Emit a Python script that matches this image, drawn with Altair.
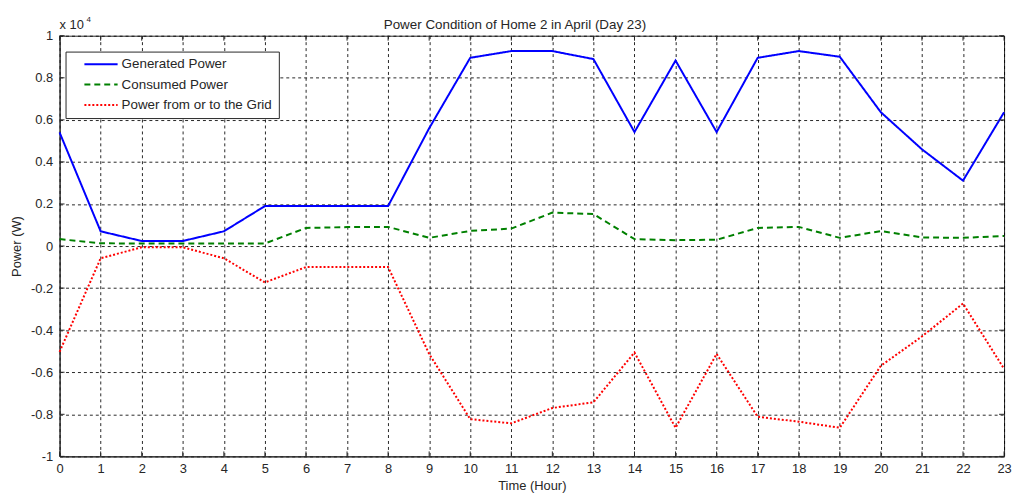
import altair as alt
import pandas as pd

hours = list(range(24))
generated = [5400, 700, 240, 240, 700, 1900, 1900, 1900, 1900, 5600, 8950, 9270,
             9270, 8890, 5420, 8820, 5420, 8950, 9270, 9000, 6360, 4600, 3110, 6360]
consumed = [330, 130, 120, 120, 120, 120, 860, 900, 910, 390, 720, 830,
            1590, 1520, 330, 280, 300, 860, 910, 390, 710, 410, 390, 480]
grid = [-5030, -580, -60, -60, -580, -1730, -1000, -1000, -1000, -5130, -8230, -8430,
        -7700, -7430, -5060, -8640, -5130, -8120, -8350, -8640, -5690, -4300, -2730, -5840]
series_names = ["Generated Power", "Consumed Power", "Power from or to the Grid"]
series_colors = ["#0000ff", "#008000", "#ff0000"]
x_ticks = list(range(24))
y_ticks = [-10000, -8000, -6000, -4000, -2000, 0, 2000, 4000, 6000, 8000, 10000]
title_text = "Power Condition of Home 2 in April (Day 23)"

rows = []
for name, vals in zip(series_names, [generated, consumed, grid]):
    for h, v in zip(hours, vals):
        rows.append({"hour": h, "power": v, "series": name})
df = pd.DataFrame(rows)
xt = pd.DataFrame({"t": x_ticks})
yt = pd.DataFrame({"t": y_ticks})

W, H = 952, 424
FONT = "Liberation Sans"
TXT = "#262626"
FS = 13

x_scale = alt.Scale(domain=[0, 23], nice=False, zero=False)
y_scale = alt.Scale(domain=[-10000, 10000], nice=False, zero=False)

x_axis = alt.Axis(values=x_ticks, title="Time (Hour)", grid=True, ticks=False,
                  labelPadding=6, titlePadding=4, labelFlush=False)
y_axis = alt.Axis(values=y_ticks, title="Power (W)", grid=True, ticks=False,
                  labelPadding=7, titlePadding=7, labelFlush=False,
                  labelExpr="datum.value == 0 ? '0' : (datum.value < 0 ? '-' : '') + format(abs(datum.value) / 10000, '.1~f')")

lines = alt.Chart(df).mark_line(strokeWidth=2).encode(
    x=alt.X("hour:Q", scale=x_scale, axis=x_axis),
    y=alt.Y("power:Q", scale=y_scale, axis=y_axis),
    color=alt.Color("series:N", scale=alt.Scale(domain=series_names, range=series_colors),
                    legend=alt.Legend(title=None)),
    strokeDash=alt.StrokeDash("series:N",
                              scale=alt.Scale(domain=series_names, range=[[1, 0], [6, 4], [2, 2]]),
                              legend=alt.Legend(title=None)),
    order=alt.Order("hour:Q"),
)

tick_style = dict(color="#262626", strokeWidth=1)
bottom_ticks = alt.Chart(xt).mark_rule(**tick_style).encode(
    x=alt.X("t:Q", scale=x_scale), y=alt.value(H), y2=alt.value(H - 5))
top_ticks = alt.Chart(xt).mark_rule(**tick_style).encode(
    x=alt.X("t:Q", scale=x_scale), y=alt.value(0), y2=alt.value(5))
left_ticks = alt.Chart(yt).mark_rule(**tick_style).encode(
    y=alt.Y("t:Q", scale=y_scale), x=alt.value(0), x2=alt.value(5))
right_ticks = alt.Chart(yt).mark_rule(**tick_style).encode(
    y=alt.Y("t:Q", scale=y_scale), x=alt.value(W), x2=alt.value(W - 5))

one = pd.DataFrame({"a": [0]})
exp_base = alt.Chart(one).mark_text(
    align="left", baseline="alphabetic", fontSize=FS, font=FONT, color=TXT
).encode(x=alt.value(0), y=alt.value(-7), text=alt.value("x 10"))
exp_sup = alt.Chart(one).mark_text(
    align="left", baseline="alphabetic", fontSize=8, font=FONT, color=TXT
).encode(x=alt.value(27), y=alt.value(-14), text=alt.value("4"))
title_mark = alt.Chart(one).mark_text(
    align="center", baseline="alphabetic", fontSize=13.5, font=FONT, color=TXT
).encode(x=alt.value(W / 2 - 17), y=alt.value(-7), text=alt.value(title_text))

chart = alt.layer(lines, bottom_ticks, top_ticks, left_ticks, right_ticks,
                  exp_base, exp_sup, title_mark).properties(
    width=W, height=H,
    autosize=alt.AutoSizeParams(type="none"),
    padding={"left": 52, "top": 26, "right": 8, "bottom": 37},
).configure_view(
    stroke="#262626", strokeWidth=1
).configure_axis(
    domainColor="#262626", domainWidth=1,
    gridColor="#000000", gridDash=[3, 3], gridWidth=1, gridOpacity=0.85,
    labelFont=FONT, labelFontSize=FS, labelColor=TXT,
    titleFont=FONT, titleFontSize=FS, titleColor=TXT, titleFontWeight="normal",
).configure_legend(
    orient="none", legendX=6, legendY=16, direction="vertical",
    fillColor="white", strokeColor="#262626", padding=6,
    symbolType="M-4,0H4", symbolSize=70, symbolStrokeWidth=2, symbolOffset=23,
    labelFont=FONT, labelFontSize=13.5, labelColor=TXT, labelOffset=14,
    rowPadding=5.5, cornerRadius=0,
)

chart.save("out.html", embed_options={"renderer": "svg", "actions": False})
